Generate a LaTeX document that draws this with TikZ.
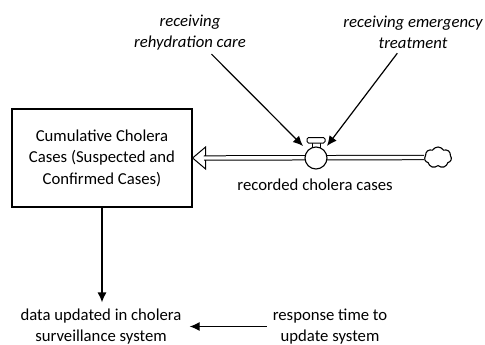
\documentclass[tikz,border=0pt]{standalone}
\usepackage{fontspec}
\setmainfont{Carlito}
\usetikzlibrary{arrows.meta,shapes.symbols}
\begin{document}
\begin{tikzpicture}[x=1pt,y=-1pt,
  lbl/.style={font=\fontsize{16.7}{21.5}\selectfont, align=center, inner sep=0pt},
  ital/.style={lbl, font=\fontsize{16.7}{21.5}\selectfont\itshape},
  conn/.style={line width=1.2pt, -{Latex[length=10pt,width=9pt]}},
  stockbox/.style={draw, line width=1.2pt, minimum width=180pt, minimum height=98pt, lbl},
  pipe/.style={draw, line width=1pt, double=white, double distance=3.4pt, line cap=butt},
  part/.style={draw, line width=1.1pt, fill=white}]
\useasboundingbox (0,0) rectangle (485,345);

% stock
\node[stockbox] (stock) at (102,158) {Cumulative Cholera\\Cases (Suspected and\\Confirmed Cases)};

% source cloud
\node[part, cloud, cloud puffs=7, cloud puff arc=120, aspect=1.3,
      minimum width=27pt, minimum height=21pt, inner sep=0pt] (cloud) at (438,157.5) {};

% outflow arrowhead into the stock, then the pipe
\coordinate (headback) at (205,158);
\draw[part, line width=1pt] (stock.east) -- ++(13,-11) -- ++(0,22) -- cycle;
\draw[pipe] (cloud.west) -- ([xshift=-1pt]headback);

% valve
\node[part, circle, minimum size=22pt, inner sep=0pt] (valve) at (316,158) {};
\draw[line width=1pt] (312,143) -- (312,147.5) (320,143) -- (320,147.5);
\draw[part, line width=1pt, rounded corners=1.5pt] (307,137.5) rectangle (325,143);
\node[lbl] (flowlbl) at (315,185) {recorded cholera cases};

% inputs to the flow
\node[ital] (rehyd) at (190,32.5) {receiving\\rehydration care};
\node[ital] (emerg) at (413,32.5) {receiving emergency\\treatment};
\coordinate (valveL) at (303,146);
\coordinate (valveR) at (327,146);
\draw[conn, shorten <=5pt] (rehyd) -- (valveL);
\draw[conn, shorten <=5pt] (emerg) -- (valveR);

% auxiliaries
\node[lbl] (data) at (101,326.5) {data updated in cholera\\surveillance system};
\node[lbl] (resp) at (330,326.5) {response time to\\update system};
\draw[conn, shorten >=6pt] (stock.south) -- (stock.south |- data.north);
\draw[conn, shorten <=6pt, shorten >=8pt] (resp.west) -- (data.east);
\end{tikzpicture}
\end{document}
